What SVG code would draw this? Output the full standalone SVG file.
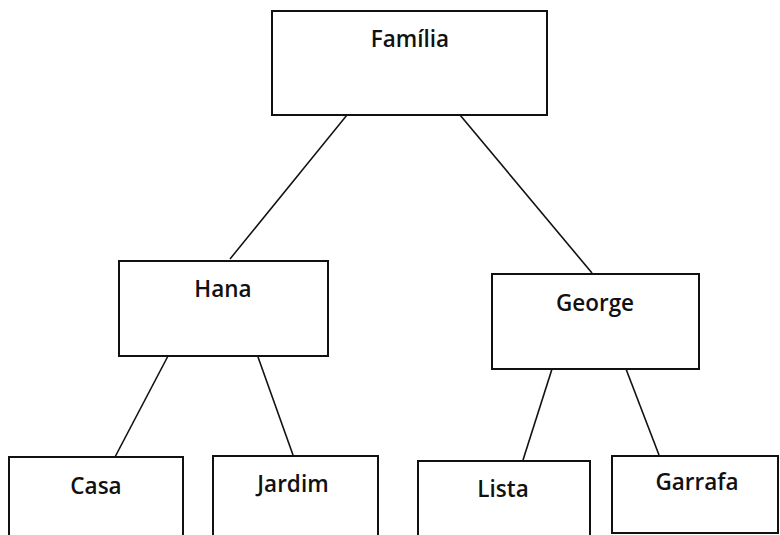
<svg xmlns="http://www.w3.org/2000/svg" width="780" height="535" viewBox="0 0 780 535">
  <style>
    .box { fill: #ffffff; stroke: #111111; stroke-width: 2; }
    .lbl { font-family: "Open Sans", Lato, "Liberation Sans", sans-serif; font-size: 22.5px; font-weight: 600; fill: #111111; text-anchor: middle; }
    .edge { stroke: #111111; stroke-width: 1.6; fill: none; }
  </style>
  <rect width="780" height="535" fill="#ffffff"/>

  <!-- tree links -->
  <g id="connectors">
    <line class="edge" x1="347" y1="115" x2="230" y2="259"/>
    <line class="edge" x1="460" y1="115" x2="592" y2="273"/>
    <line class="edge" x1="168" y1="356" x2="115" y2="457"/>
    <line class="edge" x1="258" y1="357" x2="293" y2="455"/>
    <line class="edge" x1="552" y1="369" x2="523" y2="460"/>
    <line class="edge" x1="626" y1="369" x2="659" y2="455"/>
  </g>

  <g id="familia">
    <rect class="box" x="272" y="11" width="275" height="104"/>
    <text class="lbl" x="410" y="47">Família</text>
  </g>
  <g id="hana">
    <rect class="box" x="119" y="261" width="209" height="95"/>
    <text class="lbl" x="223" y="297">Hana</text>
  </g>
  <g id="george">
    <rect class="box" x="492" y="274" width="207" height="95"/>
    <text class="lbl" x="595" y="311">George</text>
  </g>
  <g id="casa">
    <rect class="box" x="9" y="457" width="174" height="90"/>
    <text class="lbl" x="96" y="494">Casa</text>
  </g>
  <g id="jardim">
    <rect class="box" x="213" y="456" width="165" height="90"/>
    <text class="lbl" x="293" y="492">Jardim</text>
  </g>
  <g id="lista">
    <rect class="box" x="418" y="461" width="172" height="90"/>
    <text class="lbl" x="503" y="497">Lista</text>
  </g>
  <g id="garrafa">
    <rect class="box" x="612" y="456" width="166" height="77"/>
    <text class="lbl" x="697" y="490">Garrafa</text>
  </g>
</svg>
